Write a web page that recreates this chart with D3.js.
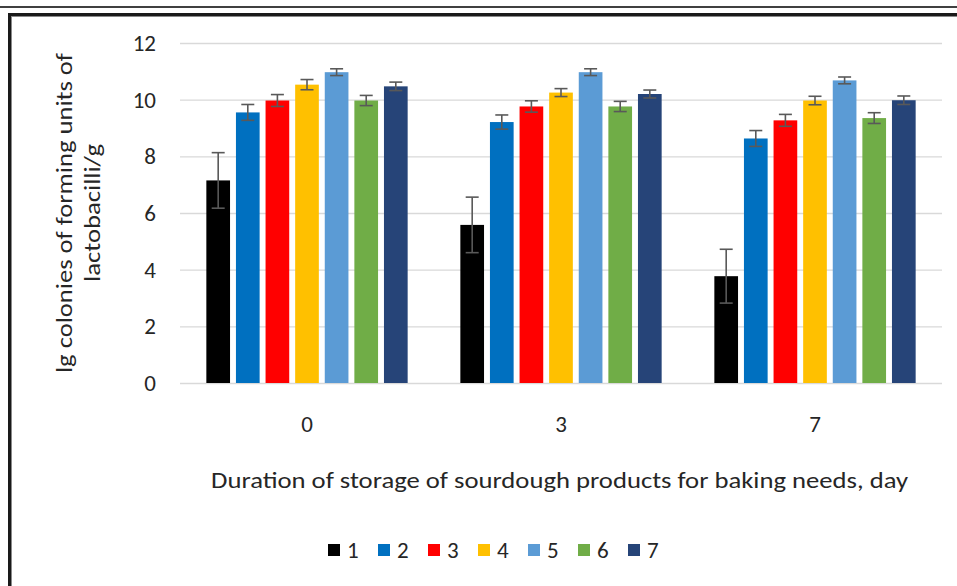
<!DOCTYPE html>
<html>
<head>
<meta charset="utf-8">
<script src="https://cdn.jsdelivr.net/npm/d3@7"></script>
<style>
  html, body { margin: 0; padding: 0; background: #fff; }
  svg { display: block; }
  text { font-family: Carlito, Calibri, Lato, "Liberation Sans", sans-serif; fill: #262626; }
</style>
</head>
<body>
<svg id="chart" width="957" height="586"></svg>
<script>
// ---- data ----
const categories = ["0", "3", "7"];
const seriesNames = ["1", "2", "3", "4", "5", "6", "7"];
const seriesColors = ["#000000", "#0070C0", "#FF0000", "#FFC000", "#5B9BD5", "#70AD47", "#264478"];
const day0 = [7.15, 9.55, 9.97, 10.53, 10.97, 9.97, 10.47];
const err0 = [0.98, 0.28, 0.21, 0.18, 0.12, 0.18, 0.15];
const day3 = [5.58, 9.21, 9.76, 10.25, 10.97, 9.76, 10.20];
const err3 = [0.98, 0.25, 0.20, 0.14, 0.12, 0.18, 0.14];
const day7 = [3.77, 8.63, 9.27, 9.97, 10.68, 9.35, 9.98];
const err7 = [0.95, 0.28, 0.21, 0.15, 0.12, 0.19, 0.15];
const yTicks = [0, 2, 4, 6, 8, 10, 12];
const yTitleLines = ["lg colonies of forming units of", "lactobacilli/g"];
const xTitle = "Duration of storage  of sourdough products for baking needs, day";

const valuesByCat = [day0, day3, day7];
const errsByCat = [err0, err3, err7];
const textColor = "#262626";
const fontFam = "Carlito, Calibri, Lato, sans-serif";

const svg = d3.select("#chart");

// page rule at top and the frame
svg.append("line").attr("x1", 0).attr("x2", 957).attr("y1", 7).attr("y2", 7)
  .attr("stroke", "#000").attr("stroke-width", 1.5);
svg.append("rect").attr("x", 9.5).attr("y", 14.5).attr("width", 1000).attr("height", 1000)
  .attr("fill", "none").attr("stroke", "#1a1a1a").attr("stroke-width", 3);
svg.append("rect").attr("x", 11.5).attr("y", 16.5).attr("width", 1000).attr("height", 1000)
  .attr("fill", "none").attr("stroke", "#8a8a8a").attr("stroke-width", 1);

// scales
const plotLeft = 180, plotRight = 942, plotTop = 43, plotBottom = 383;
const y = d3.scaleLinear().domain([0, 12]).range([plotBottom, plotTop]);
const x0 = d3.scaleBand().domain(categories).range([plotLeft, plotRight]).padding(0);
const x1 = d3.scaleBand().domain(seriesNames).range([0, x0.bandwidth()])
  .paddingInner(0.2).paddingOuter(0.89);

// gridlines
const grid = svg.append("g").attr("transform", `translate(${plotLeft},0)`)
  .call(d3.axisLeft(y).tickValues(yTicks).tickSize(-(plotRight - plotLeft)).tickFormat(""));
grid.select(".domain").remove();
grid.selectAll("line").attr("stroke", "#d9d9d9").attr("stroke-width", 1.3);

// y axis labels
const yAxis = svg.append("g").attr("transform", `translate(${plotLeft},0)`)
  .call(d3.axisLeft(y).tickValues(yTicks).tickSize(0).tickPadding(24).tickFormat(d3.format("d")));
yAxis.select(".domain").remove();
yAxis.selectAll("text").attr("font-size", 23).attr("fill", textColor)
  .style("font-family", fontFam);

// x axis labels
const xAxis = svg.append("g").attr("transform", `translate(0,${plotBottom})`)
  .call(d3.axisBottom(x0).tickSize(0).tickPadding(33));
xAxis.select(".domain").remove();
xAxis.selectAll("text").attr("font-size", 23).attr("fill", textColor)
  .style("font-family", fontFam);

// bars
const groups = svg.append("g").selectAll("g").data(categories).join("g")
  .attr("transform", d => `translate(${x0(d)},0)`);

groups.each(function(cat, ci) {
  const g = d3.select(this);
  const rows = seriesNames.map((s, si) => ({ s, si, v: valuesByCat[ci][si], e: errsByCat[ci][si] }));
  g.selectAll("rect").data(rows).join("rect")
    .attr("x", d => x1(d.s))
    .attr("width", x1.bandwidth())
    .attr("y", d => y(d.v))
    .attr("height", d => y(0) - y(d.v))
    .attr("fill", d => seriesColors[d.si]);
  const eb = g.selectAll("g.err").data(rows).join("g").attr("class", "err")
    .attr("stroke", "#595959").attr("stroke-width", 1.6);
  eb.append("line")
    .attr("x1", d => x1(d.s) + x1.bandwidth() / 2).attr("x2", d => x1(d.s) + x1.bandwidth() / 2)
    .attr("y1", d => y(d.v + d.e)).attr("y2", d => y(d.v - d.e));
  eb.append("line")
    .attr("x1", d => x1(d.s) + x1.bandwidth() / 2 - 6.5).attr("x2", d => x1(d.s) + x1.bandwidth() / 2 + 6.5)
    .attr("y1", d => y(d.v + d.e)).attr("y2", d => y(d.v + d.e));
  eb.append("line")
    .attr("x1", d => x1(d.s) + x1.bandwidth() / 2 - 6.5).attr("x2", d => x1(d.s) + x1.bandwidth() / 2 + 6.5)
    .attr("y1", d => y(d.v - d.e)).attr("y2", d => y(d.v - d.e));
});

// y title
const yTitle = svg.append("text").attr("transform", "translate(79,213) rotate(-90)")
  .attr("text-anchor", "middle").attr("font-size", 22).attr("fill", textColor);
yTitle.append("tspan").attr("x", 0).attr("y", -7).text(yTitleLines[0])
  .attr("textLength", 320).attr("lengthAdjust", "spacingAndGlyphs");
yTitle.append("tspan").attr("x", 0).attr("y", 21).text(yTitleLines[1])
  .attr("textLength", 138).attr("lengthAdjust", "spacingAndGlyphs");

// x title
svg.append("text").attr("x", 559.5).attr("y", 488).attr("text-anchor", "middle")
  .attr("font-size", 22).attr("fill", textColor)
  .attr("textLength", 697).attr("lengthAdjust", "spacingAndGlyphs")
  .text(xTitle);

// legend
const legend = svg.append("g").selectAll("g").data(seriesNames).join("g")
  .attr("transform", (d, i) => `translate(${328 + i * 50},544)`);
legend.append("rect").attr("width", 12).attr("height", 12)
  .attr("fill", (d, i) => seriesColors[i]);
legend.append("text").attr("x", 19).attr("y", 14).attr("font-size", 23)
  .attr("fill", textColor).text(d => d);
</script>
</body>
</html>
